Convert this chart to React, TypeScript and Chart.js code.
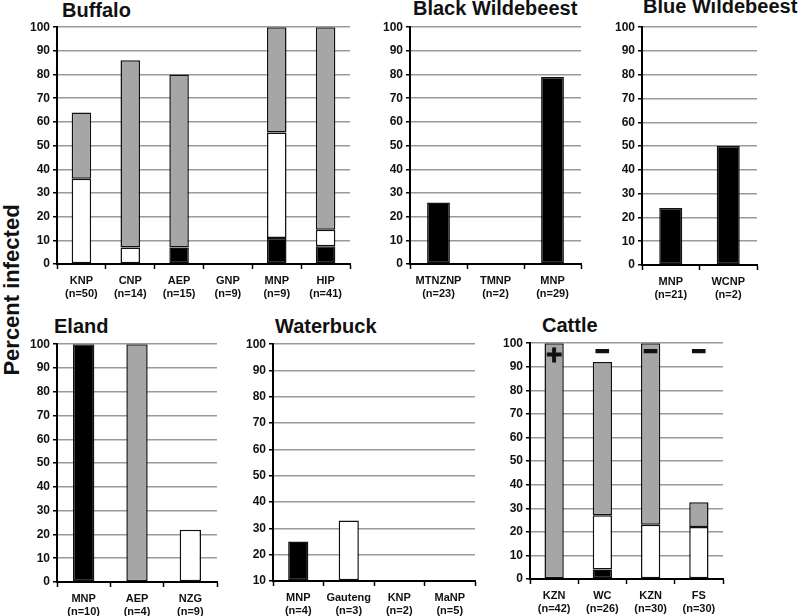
import React, { useEffect, useRef } from 'react';
import { Chart, registerables } from 'chart.js';

Chart.register(...registerables);

const BLACK = '#000000';
const WHITE = '#ffffff';
const GRAY = '#a6a6a6';
const FONT = '"Liberation Sans", Arial, Helvetica, sans-serif';

// ---- Buffalo ----
const buffaloCategories = [['KNP', '(n=50)'], ['CNP', '(n=14)'], ['AEP', '(n=15)'], ['GNP', '(n=9)'], ['MNP', '(n=9)'], ['HIP', '(n=41)']];
const buffaloBlack = [null, null, 7, null, 11, 7.5];
const buffaloWhite = [36, 7, null, null, 44.5, 7];
const buffaloGray = [28, 79, 73, null, 44.5, 85.5];

// ---- Black Wildebeest ----
const blackWbCategories = [['MTNZNP', '(n=23)'], ['TMNP', '(n=2)'], ['MNP', '(n=29)']];
const blackWbBlack = [26, null, 79];

// ---- Blue Wildebeest ----
const blueWbCategories = [['MNP', '(n=21)'], ['WCNP', '(n=2)']];
const blueWbBlack = [24, 50];

// ---- Eland ----
const elandCategories = [['MNP', '(n=10)'], ['AEP', '(n=4)'], ['NZG', '(n=9)']];
const elandBlack = [100, null, null];
const elandGray = [null, 100, null];
const elandWhite = [null, null, 22];

// ---- Waterbuck ----
const waterbuckCategories = [['MNP', '(n=4)'], ['Gauteng', '(n=3)'], ['KNP', '(n=2)'], ['MaNP', '(n=5)']];
const waterbuckBlack = [25, null, null, null];
const waterbuckWhite = [null, 33, null, null];

// ---- Cattle ----
const cattleCategories = [['KZN', '(n=42)'], ['WC', '(n=26)'], ['KZN', '(n=30)'], ['FS', '(n=30)']];
const cattleBlack = [null, 4, null, null];
const cattleWhite = [null, 23, 23, 22];
const cattleGray = [100, 65, 77, 10.5];
const cattleSigns = ['+', '\u2212', '\u2212', '\u2212'];
const cattleSignLevel = [94.5, 96, 96, 96];

type Rect = { left: number; top: number; right: number; bottom: number };
type Series = { data: (number | null)[]; color: string };

const YW = 36;
const PADT = 10;
const PADR = 4;
const XH = 44;

const signPlugin = {
  id: 'signs',
  afterDatasetsDraw(chart: any, _args: any, opts: any) {
    if (!opts || !opts.signs) return;
    const ctx = chart.ctx;
    const xs = chart.scales.x;
    const ys = chart.scales.y;
    ctx.save();
    ctx.fillStyle = '#111';
    ctx.strokeStyle = '#111';
    ctx.textAlign = 'center';
    ctx.textBaseline = 'middle';
    opts.signs.forEach((s: string, i: number) => {
      const x = xs.getPixelForValue(i);
      const y = ys.getPixelForValue(opts.levels[i]);
      ctx.font = `bold ${s === '+' ? 28 : 24}px ${FONT}`;
      ctx.lineWidth = s === '+' ? 0.8 : 1.6;
      ctx.fillText(s, x, y);
      ctx.strokeText(s, x, y);
    });
    ctx.restore();
  },
};

function Panel(props: { rect: Rect; labels: string[][]; series: Series[]; yMin?: number; signs?: string[]; levels?: number[] }) {
  const ref = useRef<HTMLCanvasElement | null>(null);
  const { rect, labels, series, yMin = 0, signs, levels } = props;
  const width = YW + (rect.right - rect.left) + PADR;
  const height = PADT + (rect.bottom - rect.top) + XH;

  useEffect(() => {
    if (!ref.current) return;
    const chart = new Chart(ref.current, {
      type: 'bar',
      data: {
        labels,
        datasets: series.map((s) => ({
          data: s.data,
          backgroundColor: s.color,
          borderColor: '#111',
          borderWidth: 1.5,
          borderSkipped: false,
          barPercentage: 0.4,
          categoryPercentage: 1,
          ...(yMin > 0 ? { base: yMin } : {}),
        })),
      },
      options: {
        animation: false,
        responsive: false,
        devicePixelRatio: 1,
        layout: { padding: { top: PADT, right: PADR, left: 0, bottom: 0 } },
        plugins: {
          legend: { display: false },
          tooltip: { enabled: false },
          title: { display: false },
          signs: signs ? { signs, levels } : false,
        } as any,
        scales: {
          x: {
            stacked: true,
            offset: true,
            afterFit: (scale: any) => {
              scale.height = XH;
            },
            border: { display: true, color: '#000', width: 2 },
            grid: {
              display: true,
              drawOnChartArea: false,
              drawTicks: true,
              tickLength: 5,
              tickColor: '#000',
              tickWidth: 1.5,
              offset: true,
            },
            ticks: {
              color: '#111',
              font: { family: FONT, size: 11, weight: 'bold', lineHeight: 1.2 },
              padding: 5,
              maxRotation: 0,
              autoSkip: false,
            },
          },
          y: {
            stacked: true,
            min: yMin,
            max: 100,
            afterFit: (scale: any) => {
              scale.width = YW;
            },
            border: { display: true, color: '#000', width: 2 },
            grid: {
              color: '#9a9a9a',
              lineWidth: 1.5,
              tickLength: 4,
              tickColor: '#000',
              tickWidth: 1.5,
            },
            ticks: {
              stepSize: 10,
              color: '#111',
              font: { family: FONT, size: 12, weight: 'bold' },
              padding: 3,
              autoSkip: false,
            },
          },
        },
      } as any,
      plugins: [signPlugin],
    });
    return () => chart.destroy();
  }, []);

  return (
    <canvas
      ref={ref}
      width={width}
      height={height}
      style={{ position: 'absolute', left: rect.left - YW, top: rect.top - PADT, width, height }}
    />
  );
}

function Title(props: { text: string; x: number; baseline: number }) {
  return (
    <div
      style={{
        position: 'absolute',
        left: props.x,
        top: props.baseline - 17,
        fontFamily: FONT,
        fontWeight: 'bold',
        fontSize: 20,
        lineHeight: '20px',
        whiteSpace: 'nowrap',
        color: '#111',
      }}
    >
      {props.text}
    </div>
  );
}

export default function App() {
  return (
    <div style={{ position: 'absolute', left: 0, top: 0, width: 800, height: 616, background: '#fff', overflow: 'hidden' }}>
      <Title text="Buffalo" x={62} baseline={17} />
      <Title text="Black Wildebeest" x={413} baseline={15} />
      <Title text="Blue Wildebeest" x={643} baseline={13} />
      <Title text="Eland" x={54} baseline={333} />
      <Title text="Waterbuck" x={275} baseline={333} />
      <Title text="Cattle" x={542} baseline={332} />
      <div
        style={{
          position: 'absolute',
          left: 12,
          top: 290,
          transform: 'translate(-50%, -50%) rotate(-90deg)',
          fontFamily: FONT,
          fontWeight: 'bold',
          fontSize: 22,
          lineHeight: '22px',
          whiteSpace: 'nowrap',
          color: '#111',
        }}
      >
        Percent infected
      </div>

      <Panel
        rect={{ left: 57, top: 27, right: 350, bottom: 264 }}
        labels={buffaloCategories}
        series={[
          { data: buffaloBlack, color: BLACK },
          { data: buffaloWhite, color: WHITE },
          { data: buffaloGray, color: GRAY },
        ]}
      />
      <Panel
        rect={{ left: 410, top: 27, right: 581, bottom: 264 }}
        labels={blackWbCategories}
        series={[{ data: blackWbBlack, color: BLACK }]}
      />
      <Panel
        rect={{ left: 642, top: 27, right: 757, bottom: 265 }}
        labels={blueWbCategories}
        series={[{ data: blueWbBlack, color: BLACK }]}
      />
      <Panel
        rect={{ left: 57, top: 344, right: 217, bottom: 582 }}
        labels={elandCategories}
        series={[
          { data: elandBlack, color: BLACK },
          { data: elandGray, color: GRAY },
          { data: elandWhite, color: WHITE },
        ]}
      />
      <Panel
        rect={{ left: 273, top: 344, right: 475, bottom: 581 }}
        labels={waterbuckCategories}
        yMin={10}
        series={[
          { data: waterbuckBlack, color: BLACK },
          { data: waterbuckWhite, color: WHITE },
        ]}
      />
      <Panel
        rect={{ left: 530, top: 343, right: 723, bottom: 579 }}
        labels={cattleCategories}
        series={[
          { data: cattleBlack, color: BLACK },
          { data: cattleWhite, color: WHITE },
          { data: cattleGray, color: GRAY },
        ]}
        signs={cattleSigns}
        levels={cattleSignLevel}
      />
    </div>
  );
}
